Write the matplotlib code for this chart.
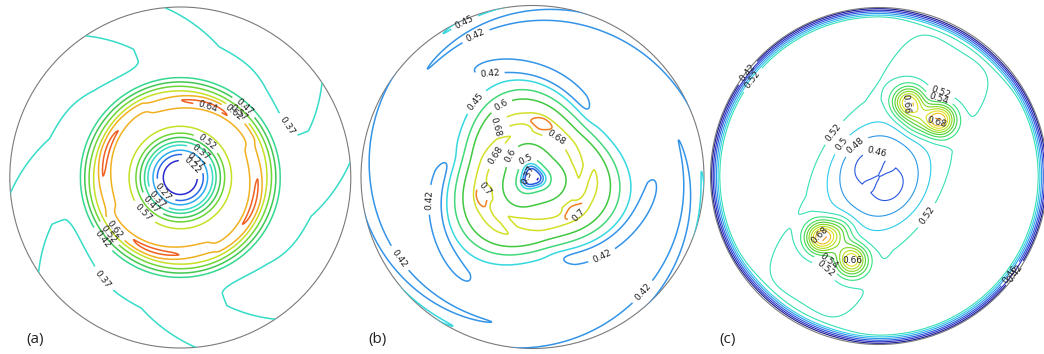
import numpy as np
import matplotlib
matplotlib.use("Agg")
import matplotlib.pyplot as plt
from matplotlib.patches import Circle

W, H = 1044, 354

levels_a = [0.22, 0.27, 0.32, 0.37, 0.42, 0.47, 0.52, 0.57, 0.62, 0.64]
colors_a = ['#2a2ad0', '#2a6ae8', '#2aaaf0', '#36dcc8', '#36d890', '#40c850',
            '#6cd634', '#c6e024', '#f0b020', '#f06020']
ra_knots = [0.0, 0.10, 0.135, 0.16, 0.19, 0.21, 0.235, 0.26, 0.30, 0.42,
            0.455, 0.49, 0.51, 0.535, 0.56, 0.585, 0.80, 1.0]
fa_knots = [0.17, 0.22, 0.27, 0.32, 0.37, 0.42, 0.47, 0.52, 0.57, 0.62,
            0.637, 0.62, 0.57, 0.52, 0.47, 0.42, 0.365, 0.358]
labels_a = [(0.16, 0.41), (0.30, 0.36), (0.34, 0.38), (0.375, 0.416), (0.64, 0.31),
            (0.15, 0.20), (0.12, 0.15), (0.09, 0.10), (0.06, 0.06),
            (-0.10, -0.085), (-0.14, -0.13), (-0.17, -0.16), (-0.22, -0.21),
            (-0.38, -0.30), (-0.42, -0.33), (-0.47, -0.37), (-0.42, -0.57)]

# ---- panel (b): 3-fold pattern
levels_b = [0.37, 0.40, 0.42, 0.45, 0.50, 0.60, 0.68, 0.70]
colors_b = ['#2020c0', '#2858e0', '#3494e8', '#36d8e0', '#40d878', '#40c840',
            '#d2e028', '#f08020']
rb_knots = [0.0, 0.03, 0.045, 0.058, 0.072, 0.10, 0.18, 0.25, 0.30, 0.35,
            0.42, 0.47, 0.53, 0.62, 0.85, 1.0]
fb_knots = [0.33, 0.37, 0.40, 0.42, 0.45, 0.50, 0.60, 0.677, 0.686, 0.677,
            0.60, 0.50, 0.45, 0.432, 0.429, 0.427]
peaks_b = [81, 201, 321]          # angles of the 0.7 spots (r = 0.30)
troughs_b = [81, 201, 321]        # mid angles of the 0.42 crescents
labels_b = [(-0.39, 0.89), (-0.32, 0.80), (-0.25, 0.61), (-0.32, 0.43),
            (-0.19, 0.43), (-0.24, 0.31), (0.13, 0.22), (-0.22, 0.13),
            (-0.12, 0.12), (-0.04, 0.10), (-0.02, 0.01), (-0.30, -0.08),
            (0.25, -0.20), (-0.66, -0.13), (-0.77, -0.47), (0.41, -0.47),
            (0.62, -0.65)]

# ---- panel (c): two-lobed diagonal pattern
levels_c = [0.42, 0.44, 0.46, 0.48, 0.50, 0.52, 0.54, 0.56, 0.58, 0.60,
            0.62, 0.64, 0.66, 0.68]
colors_c = ['#1a1a90', '#2828c0', '#2858e0', '#2c98e8', '#2cccea', '#36e0b4',
            '#34e080', '#40d850', '#54d030', '#84d820', '#b4e020', '#e0e020',
            '#f0c020', '#f09020']
rc_edge = [0.0, 0.925, 0.945, 0.955, 0.965, 0.975, 0.984, 0.993, 1.01]
fc_edge = [0.535, 0.535, 0.52, 0.50, 0.48, 0.46, 0.44, 0.42, 0.39]
rc_mid = [0.0, 0.11, 0.19, 0.24, 0.33, 0.45]
fc_mid = [-0.0495, -0.054, -0.043, -0.03, -0.01, 0.0]
lobes_r = [0.47, 0.49, 0.50, 0.525]
lobes_t = [68, 43, 227, 252]
lobes_peak = [0.66, 0.68, 0.68, 0.66]
labels_c = [(-0.79, 0.62), (-0.75, 0.57), (0.38, 0.55), (0.36, 0.49),
            (0.17, 0.43), (0.35, 0.33), (-0.27, 0.26), (-0.21, 0.18),
            (-0.13, 0.17), (-0.02, 0.11), (0.32, -0.26), (-0.34, -0.36),
            (-0.16, -0.50), (-0.31, -0.52), (-0.35, -0.58), (0.78, -0.58),
            (0.84, -0.60)]

n = 761
x = np.linspace(-1.02, 1.02, n)
X, Y = np.meshgrid(x, x)
R = np.hypot(X, Y)
T = np.degrees(np.arctan2(Y, X))


def cosd(a):
    return np.cos(np.radians(a))


def sind(a):
    return np.sin(np.radians(a))


def wrap(a):
    return (a + 180) % 360 - 180


def gauss(cx, cy, s):
    return np.exp(-((X - cx) ** 2 + (Y - cy) ** 2) / (2 * s * s))


# field (a)
fa = np.interp(R, ra_knots, fa_knots)
fa += 0.010 * np.exp(-((R - 0.45) / 0.07) ** 2) * cosd(4 * (T - (65 - 600 * (R - 0.465))))
psi = -5 + 80 * (R - 0.75)
fa += 0.028 * np.clip((R - 0.62) / 0.10, 0, 1) * (cosd(4 * (T - psi)) + 0.35 * sind(8 * (T - psi)))

# field (b)
reff = R / (1 + 0.10 * cosd(3 * (T - 105)))
fb = np.interp(reff, rb_knots, fb_knots)
fb += 0.012 * np.exp(-((R - 0.3) / 0.07) ** 2) * cosd(3 * (T - (50 + 900 * (R - 0.3))))
for a in peaks_b:
    fb += 0.03 * gauss(0.3 * cosd(a), 0.3 * sind(a), 0.04)
for a in troughs_b:
    s = wrap(T - a) / 38.0
    rt = 0.59 + 0.11 * s
    fb -= 0.03 * np.exp(-((R - rt) / 0.055) ** 2) * np.exp(-s ** 6)
fb += 0.024 * np.clip((R - 0.8) / 0.2, 0, 1) * cosd(3 * (T - (110 + 630 * (1 - R))))

# field (c)
ang = np.radians(58)
U = X * np.cos(ang) + Y * np.sin(ang)
V = -X * np.sin(ang) + Y * np.cos(ang)
fc = np.interp(R, rc_edge, fc_edge)
fc -= 0.025 * np.exp(-(np.abs(V) / 0.36) ** 4) * np.exp(-(np.abs(U) / 0.96) ** 8)
fc += np.interp(R, rc_mid, fc_mid)
fc += 0.005 * np.exp(-((R - 0.11) / 0.07) ** 2) * cosd(2 * (T - 45))
for rr, tt, pk in zip(lobes_r, lobes_t, lobes_peak):
    fc += (pk - 0.51) * gauss(rr * cosd(tt), rr * sind(tt), 0.065)
for tt in [55, 235]:
    fc += 0.05 * gauss(0.40 * cosd(tt), 0.40 * sind(tt), 0.06)

fig = plt.figure(figsize=(W / 100, H / 100), dpi=100)

panels = [
    (180.3, 177.5, 170.5, fa, levels_a, colors_a, labels_a, '(a)', 26, 1.1),
    (532.5, 177.0, 171.5, fb, levels_b, colors_b, labels_b, '(b)', 368, 1.1),
    (879.0, 176.0, 168.5, fc, levels_c, colors_c, labels_c, '(c)', 719, 0.8),
]

for cx, cy, rad, field, levels, cols, labpos, tag, tx, lw in panels:
    ax = fig.add_axes([(cx - rad) / W, (H - cy - rad) / H, 2 * rad / W, 2 * rad / H])
    ax.set_xlim(-1, 1)
    ax.set_ylim(-1, 1)
    ax.axis('off')
    cs = ax.contour(X, Y, field, levels=levels, colors=cols, linewidths=lw)
    clip = Circle((0, 0), 1.0, transform=ax.transData)
    cs.set_clip_path(clip)
    ax.clabel(cs, manual=labpos, inline=True, fontsize=6.5, fmt='%g', colors='#222222')
    ax.add_patch(Circle((0, 0), 1.0, fill=False, ec='#7a7a7a', lw=0.8, clip_on=False))
    fig.text(tx / W, 1 - 339 / H, tag, fontsize=11, family='Open Sans',
             ha='left', va='center', color='#222222')

fig.savefig('out.png', dpi=100)
